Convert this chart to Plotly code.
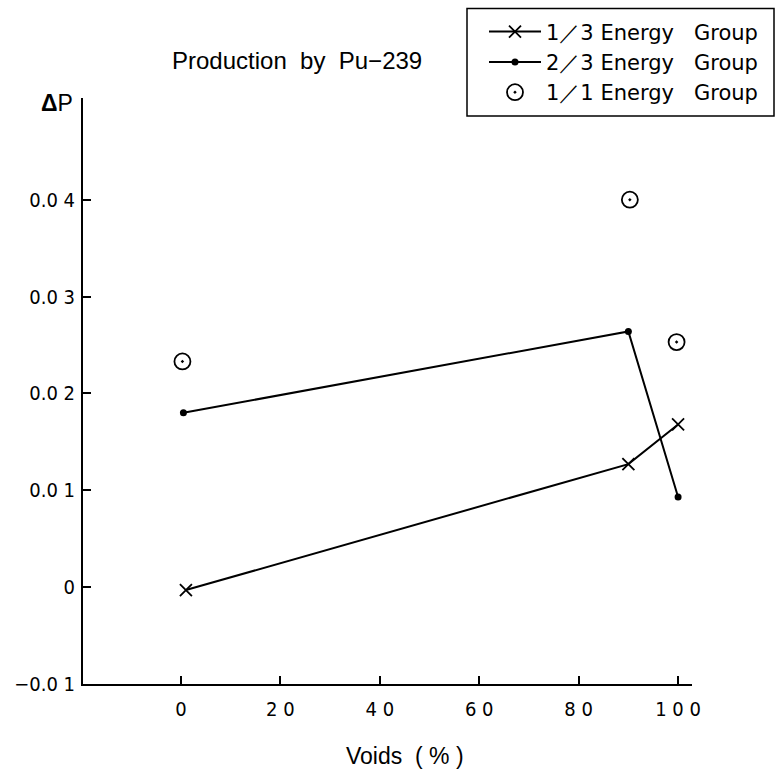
import plotly.graph_objects as go

# Void fraction (%) and production change ΔP for each energy-group treatment
voids_1_3 = [1, 90, 100]
dp_1_3 = [-0.0003, 0.0127, 0.0168]

voids_2_3 = [0.5, 90, 100]
dp_2_3 = [0.0180, 0.0264, 0.0093]

voids_1_1 = [0.3, 90.3, 99.7]
dp_1_1 = [0.0233, 0.0400, 0.0253]

x_tick_vals = [0, 20, 40, 60, 80, 100]
x_tick_text = ["0", "2 0", "4 0", "6 0", "8 0", "1 0 0"]
y_tick_vals = [-0.01, 0, 0.01, 0.02, 0.03, 0.04]
y_tick_text = ["−0.0 1", "0", "0.0 1", "0.0 2", "0.0 3", "0.0 4"]

NB = "\u00a0"
TICK_FONT = "DejaVu Sans Condensed, Liberation Sans Narrow, Liberation Sans, sans-serif"
TEXT_FONT = "Liberation Sans, Arial, sans-serif"
LEGEND_FONT = "DejaVu Sans, Liberation Sans, sans-serif"

# plot area in pixels: x 83..692, y 95..684
PW, PH, PL, PB = 609, 589, 83, 684


def px(x):
    return (x - PL) / PW


def py(y):
    return (PB - y) / PH


def label(group):
    return f"{group}{NB}Energy{NB}{NB}{NB}Group"


fig = go.Figure()
fig.add_trace(go.Scatter(
    x=voids_1_3, y=dp_1_3, mode="lines+markers",
    name=label("1／3"), legendgroup="a",
    line=dict(color="black", width=2),
    marker=dict(symbol="x-thin-open", size=12, color="black",
                line=dict(width=1.8, color="black")),
))
fig.add_trace(go.Scatter(
    x=voids_2_3, y=dp_2_3, mode="lines+markers",
    name=label("2／3"), legendgroup="b",
    line=dict(color="black", width=2),
    marker=dict(symbol="circle", size=7, color="black"),
))
fig.add_trace(go.Scatter(
    x=voids_1_1, y=dp_1_1, mode="markers",
    name=label("1／1"), legendgroup="c",
    marker=dict(symbol="circle-open-dot", size=16, color="black",
                line=dict(width=1.8, color="black")),
))

fig.update_layout(
    width=781, height=774,
    margin=dict(l=83, r=89, t=95, b=90),
    paper_bgcolor="white", plot_bgcolor="white",
    font=dict(family=TEXT_FONT, color="black", size=21),
    showlegend=True,
    legend=dict(
        x=px(484), y=py(8), xanchor="left", yanchor="top",
        borderwidth=0, bgcolor="rgba(0,0,0,0)",
        font=dict(family=LEGEND_FONT, size=21, color="black"),
        tracegroupgap=0, itemwidth=52,
    ),
    shapes=[
        # frame around the legend
        dict(type="rect", xref="paper", yref="paper",
             x0=px(467), x1=px(774), y0=py(113), y1=py(5),
             line=dict(color="black", width=1.5), fillcolor="rgba(0,0,0,0)",
             layer="above"),
    ],
    xaxis=dict(
        range=[-19.7, 102.8], showgrid=False, zeroline=False,
        showline=True, linecolor="black", linewidth=2,
        ticks="inside", ticklen=8, tickwidth=1.5, tickcolor="black",
        tickvals=x_tick_vals, ticktext=x_tick_text,
        tickfont=dict(family=TICK_FONT, size=20, color="black"),
        ticklabelstandoff=6,
    ),
    yaxis=dict(
        range=[-0.01, 0.0505], showgrid=False, zeroline=False,
        showline=True, linecolor="black", linewidth=2,
        ticks="inside", ticklen=8, tickwidth=1.5, tickcolor="black",
        tickvals=y_tick_vals, ticktext=y_tick_text,
        tickfont=dict(family=TICK_FONT, size=20, color="black"),
        ticklabelstandoff=2,
    ),
    annotations=[
        dict(text=f"Production{NB}{NB}by{NB}{NB}Pu−239", xref="paper", yref="paper",
             x=px(297), y=py(57), xanchor="center",
             yanchor="middle", showarrow=False,
             font=dict(family=TEXT_FONT, size=24)),
        dict(text="<b>Δ</b>P", xref="paper", yref="paper",
             x=px(57), y=py(100), xanchor="center",
             yanchor="middle", showarrow=False,
             font=dict(family=TEXT_FONT, size=23)),
        dict(text=f"Voids{NB}{NB}({NB}%{NB})", xref="paper", yref="paper",
             x=px(405), y=py(756), xanchor="center",
             yanchor="middle", showarrow=False,
             font=dict(family=TEXT_FONT, size=23)),
    ],
)

fig.write_html("out.html")
